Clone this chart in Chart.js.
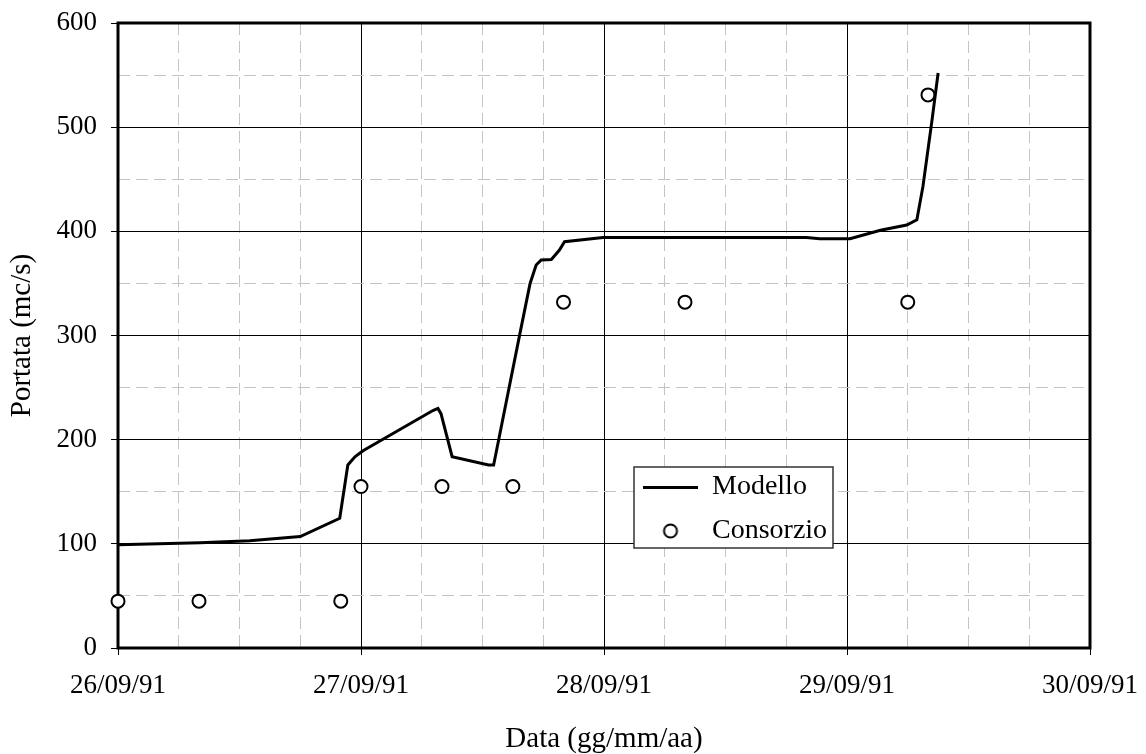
<!DOCTYPE html>
<html>
<head>
<meta charset="utf-8">
<script src="https://cdn.jsdelivr.net/npm/chart.js@4.4.1/dist/chart.umd.min.js"></script>
<style>
  html, body { margin: 0; padding: 0; background: #fff; }
  #wrap { width: 1146px; height: 754px; }
</style>
</head>
<body>
<div id="wrap"><canvas id="grafico"></canvas></div>
<script>
// ore a partire dalle 00:00 del 26/09/91
const modelloOre = [0, 8.1, 13, 18, 21.9, 22.7, 23.4, 24.2, 31.1, 31.6, 31.9, 33, 36.6, 37.1,
  39.7, 40.7, 41.3, 41.8, 42.8, 43.6, 44.1, 47.9, 68, 69.3, 72.3, 75.3, 77.9, 78.9, 79.5, 80.4, 81.0];
const modelloPortata = [99, 101, 103, 107, 124.5, 175.7, 183.6, 189.4, 228, 230, 225, 183.6, 175.7, 175.7,
  302, 350, 367.7, 372.5, 373, 382, 390, 394, 394, 393, 393, 401, 406, 411, 443, 507, 552];

const consorzioOre = [0, 8, 22, 24, 32, 39, 44, 56, 78, 80];
const consorzioPortata = [45, 45, 45, 155, 155, 155, 332, 332, 332, 531];

const etichetteDate = ['26/09/91', '27/09/91', '28/09/91', '29/09/91', '30/09/91'];
const etichetteY = [0, 100, 200, 300, 400, 500, 600];

const FONT = 'Liberation Serif';
Chart.defaults.font.family = FONT;
Chart.defaults.color = '#000';

// simboli della legenda
function simboloLinea() {
  const c = document.createElement('canvas');
  c.width = 55; c.height = 3;
  const g = c.getContext('2d');
  g.fillStyle = '#000';
  g.fillRect(0, 0, 55, 3);
  return c;
}
function simboloCerchio() {
  const c = document.createElement('canvas');
  c.width = 20; c.height = 20;
  const g = c.getContext('2d');
  g.beginPath();
  g.arc(10, 10, 6.5, 0, Math.PI * 2);
  g.fillStyle = '#fff';
  g.fill();
  g.lineWidth = 2;
  g.strokeStyle = '#000';
  g.stroke();
  return c;
}
const simboli = [simboloLinea(), simboloCerchio()];

const cornice = {
  id: 'cornice',
  afterLayout(chart) {
    const lg = chart.legend;
    const dx = 627 - lg.left, dy = 457 - lg.top;
    lg.left += dx; lg.right += dx;
    lg.top += dy; lg.bottom += dy;
  },
  beforeDatasetsDraw(chart) {
    const { ctx, chartArea: a } = chart;
    ctx.save();
    ctx.lineWidth = 3;
    ctx.strokeStyle = '#000';
    ctx.strokeRect(a.left, a.top, a.right - a.left, a.bottom - a.top);
    ctx.restore();
  },
  afterDatasetsDraw(chart) {
    const { ctx } = chart;
    const lg = chart.legend;
    ctx.save();
    ctx.fillStyle = '#fff';
    ctx.strokeStyle = '#333';
    ctx.lineWidth = 1.5;
    ctx.fillRect(lg.left + 7, lg.top + 10, 199, 81);
    ctx.strokeRect(lg.left + 7, lg.top + 10, 199, 81);
    ctx.restore();
    lg.draw();
  }
};

const maggiore = (v, passo) => Math.abs(v % passo) < 1e-6;
const grigio = '#c4c4c4';

new Chart(document.getElementById('grafico'), {
  type: 'scatter',
  data: {
    datasets: [
      {
        label: 'Modello',
        data: modelloOre.map((h, i) => ({ x: h, y: modelloPortata[i] })),
        showLine: true,
        borderColor: '#000',
        borderWidth: 3,
        pointRadius: 0,
        tension: 0,
        fill: false
      },
      {
        label: 'Consorzio',
        data: consorzioOre.map((h, i) => ({ x: h, y: consorzioPortata[i] })),
        showLine: false,
        pointStyle: 'circle',
        pointRadius: 6.5,
        borderWidth: 2,
        borderColor: '#000',
        backgroundColor: '#fff',
        clip: false
      }
    ]
  },
  options: {
    responsive: true,
    maintainAspectRatio: false,
    animation: false,
    layout: { padding: { top: 23, right: 56, left: 0, bottom: 0 } },
    plugins: {
      tooltip: { enabled: false },
      legend: {
        position: 'chartArea',
        align: 'start',
        labels: {
          font: { family: FONT, size: 28 },
          color: '#000',
          usePointStyle: true,
          pointStyleWidth: 55,
          padding: 16,
          generateLabels: chart =>
            Chart.defaults.plugins.legend.labels.generateLabels(chart)
              .map(item => Object.assign(item, { pointStyle: simboli[item.datasetIndex] }))
        }
      }
    },
    scales: {
      x: {
        type: 'linear',
        min: 0,
        max: 96,
        afterFit: s => { s.height = 106; s.paddingLeft = 0; s.paddingRight = 0; },
        ticks: {
          stepSize: 6,
          autoSkip: false,
          maxRotation: 0,
          padding: 15,
          font: { size: 27 },
          callback: v => maggiore(v, 24) ? etichetteDate[v / 24] : ''
        },
        grid: {
          color: c => c.tick && maggiore(c.tick.value, 24) ? '#000' : grigio,
          lineWidth: 1,
          tickLength: 7,
          tickColor: c => c.tick && maggiore(c.tick.value, 24) ? '#000' : 'rgba(0,0,0,0)'
        },
        border: {
          display: false,
          dash: c => c.tick && !maggiore(c.tick.value, 24) ? [12, 6] : []
        },
        title: {
          display: true,
          text: 'Data (gg/mm/aa)',
          font: { size: 29, lineHeight: 1 },
          padding: 0
        }
      },
      y: {
        min: 0,
        max: 600,
        afterFit: s => { s.width = 118; s.paddingTop = 0; s.paddingBottom = 0; },
        ticks: {
          stepSize: 50,
          padding: 14,
          font: { size: 27 },
          callback: v => etichetteY.includes(v) ? String(v) : ''
        },
        grid: {
          color: c => c.tick && maggiore(c.tick.value, 100) ? '#000' : grigio,
          lineWidth: 1,
          tickLength: 7,
          tickColor: c => c.tick && maggiore(c.tick.value, 100) ? '#000' : 'rgba(0,0,0,0)'
        },
        border: {
          display: false,
          dash: c => c.tick && !maggiore(c.tick.value, 100) ? [12, 6] : []
        },
        title: {
          display: true,
          text: 'Portata (mc/s)',
          font: { size: 29, lineHeight: 1 },
          padding: { top: 8, bottom: 0 }
        }
      }
    }
  },
  plugins: [cornice]
});
</script>
</body>
</html>
